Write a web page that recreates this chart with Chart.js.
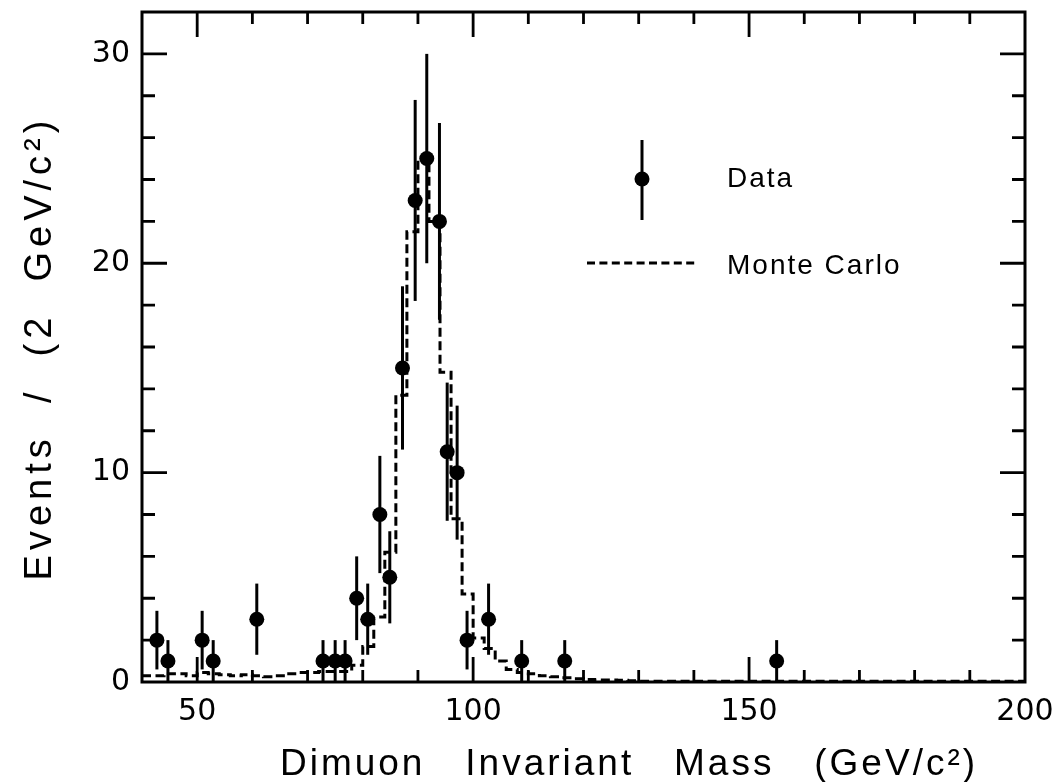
<!DOCTYPE html>
<html><head><meta charset="utf-8">
<script src="https://cdn.jsdelivr.net/npm/chart.js@4/dist/chart.umd.min.js"></script>
<style>html,body{margin:0;padding:0;background:#fff}#wrap{width:1062px;height:782px}</style>
</head><body><div id="wrap"><canvas id="c" width="1062" height="782"></canvas></div>
<script>
// ---- data ----
const dataMass   = [42.7,44.7,50.9,52.9,60.8,72.8,75.0,76.8,78.9,80.9,83.1,84.9,87.2,89.5,91.6,93.9,95.3,97.1,98.9,102.8,108.8,116.6,155.0];
const dataEvents = [2,1,2,1,3,1,1,1,4,3,8,5,15,23,25,22,11,10,2,3,1,1,1];
const dataErrors = [1.4,1,1.4,1,1.7,1,1,1,2,1.7,2.8,2.2,3.9,4.8,5,4.7,3.3,3.2,1.4,1.7,1,1,1];
const mcBinEdges = [40,42,44,46,48,50,52,54,56,58,60,62,64,66,68,70,72,74,76,78,80,82,84,86,88,90,92,94,96,98,100,102,104,106,108,110,112,114,116,118,120,122,124,126,128,130,200];
const mcValues   = [0.3,0.3,0.4,0.4,0.3,0.45,0.4,0.35,0.3,0.35,0.3,0.25,0.3,0.4,0.45,0.45,0.5,0.5,0.5,0.8,1.7,3.1,6.2,13.7,21.5,25,22,14.8,7.8,4.2,2.1,1.6,1.0,0.6,0.45,0.4,0.3,0.25,0.2,0.15,0.12,0.1,0.1,0.08,0.06,0.04];
const xTickValues = [50,100,150,200];
const yTickValues = [0,10,20,30];
const xMajorMarks = [50,100,150];
const xMinorMarks = [60,70,80,90,110,120,130,140,160,170,180,190];
const yMajorMarks = [10,20,30];
const yMinorMarks = [2,4,6,8,12,14,16,18,22,24,26,28];
const xTitle = 'Dimuon   Invariant   Mass   (GeV/c\u00B2)';
const yTitle = 'Events  /  (2  GeV/c\u00B2)';
const legendData = 'Data';
const legendMC = 'Monte Carlo';

const mcPoints = mcValues.map((v,i)=>({x:mcBinEdges[i], y:v}));
mcPoints.push({x:mcBinEdges[mcBinEdges.length-1], y:mcValues[mcValues.length-1]});
const dataPoints = dataMass.map((m,i)=>({x:m, y:dataEvents[i]}));

function setSpacing(ctx, px){ if ('letterSpacing' in ctx) ctx.letterSpacing = px + 'px'; }

const errorBars = {
  id:'errorBars',
  beforeDatasetsDraw(chart){
    const ctx = chart.ctx, xs = chart.scales.x, ys = chart.scales.y, a = chart.chartArea;
    ctx.save();
    ctx.beginPath(); ctx.rect(a.left, a.top, a.right-a.left, a.bottom-a.top); ctx.clip();
    ctx.strokeStyle = '#000'; ctx.lineWidth = 3;
    dataMass.forEach((m,i)=>{
      const px = xs.getPixelForValue(m);
      ctx.beginPath();
      ctx.moveTo(px, ys.getPixelForValue(dataEvents[i]-dataErrors[i]));
      ctx.lineTo(px, ys.getPixelForValue(dataEvents[i]+dataErrors[i]));
      ctx.stroke();
    });
    ctx.restore();
  }
};

const frameAndText = {
  id:'frameAndText',
  afterDraw(chart){
    const ctx = chart.ctx, xs = chart.scales.x, ys = chart.scales.y, a = chart.chartArea;
    ctx.save();
    ctx.strokeStyle = '#000'; ctx.lineWidth = 3; ctx.lineCap = 'butt';
    ctx.strokeRect(a.left, a.top, a.right-a.left, a.bottom-a.top);
    ctx.lineWidth = 2.8;
    const vt = (v, len) => { const p = xs.getPixelForValue(v);
      ctx.beginPath(); ctx.moveTo(p, a.bottom); ctx.lineTo(p, a.bottom-len);
      ctx.moveTo(p, a.top); ctx.lineTo(p, a.top+len); ctx.stroke(); };
    const ht = (v, len) => { const p = ys.getPixelForValue(v);
      ctx.beginPath(); ctx.moveTo(a.left, p); ctx.lineTo(a.left+len, p);
      ctx.moveTo(a.right, p); ctx.lineTo(a.right-len, p); ctx.stroke(); };
    xMajorMarks.forEach(v=>vt(v,25)); xMinorMarks.forEach(v=>vt(v,12));
    yMajorMarks.forEach(v=>ht(v,25)); yMinorMarks.forEach(v=>ht(v,13));

    // legend
    ctx.lineWidth = 3;
    ctx.beginPath(); ctx.moveTo(642,140); ctx.lineTo(642,220); ctx.stroke();
    ctx.fillStyle = '#000';
    ctx.beginPath(); ctx.arc(642,179,7.5,0,Math.PI*2); ctx.fill();
    ctx.setLineDash([8,4.4]); ctx.lineWidth = 3;
    ctx.beginPath(); ctx.moveTo(587,263); ctx.lineTo(698,263); ctx.stroke();
    ctx.setLineDash([]);
    ctx.font = '28px "Liberation Sans"'; ctx.textBaseline = 'alphabetic'; ctx.textAlign = 'left';
    setSpacing(ctx, 2);
    ctx.fillText(legendData, 727, 187);
    ctx.fillText(legendMC, 727, 274);

    // axis titles
    ctx.font = '37px "Liberation Sans"';
    setSpacing(ctx, 3);
    ctx.textAlign = 'center';
    ctx.fillText(xTitle, 629, 775);
    ctx.save();
    ctx.translate(51, 348); ctx.rotate(-Math.PI/2);
    ctx.font = '38px "Liberation Sans"';
    setSpacing(ctx, 5);
    ctx.fillText(yTitle, 0, 0);
    ctx.restore();
    setSpacing(ctx, 0);
    ctx.restore();
  }
};

new Chart(document.getElementById('c'), {
  type:'scatter',
  data:{ datasets:[
    { label:'Monte Carlo', type:'line', data:mcPoints, stepped:'before', borderColor:'#000', borderWidth:3,
      borderDash:[9,4.5], pointRadius:0, fill:false, order:2 },
    { label:'Data', data:dataPoints, pointRadius:7.5, pointHoverRadius:7.5, pointBackgroundColor:'#000', borderColor:'#000',
      pointBorderWidth:0, showLine:false, order:1 }
  ]},
  options:{
    responsive:false, animation:false, devicePixelRatio:1,
    layout:{ padding:{ top:12, right:37, left:0, bottom:0 } },
    plugins:{ legend:{display:false}, tooltip:{enabled:false} },
    scales:{
      x:{ type:'linear', min:40, max:200,
        afterBuildTicks:(s)=>{ s.ticks = xTickValues.map(v=>({value:v})); },
        afterFit:(s)=>{ s.height = 100; s.paddingLeft = 0; s.paddingRight = 0; },
        grid:{display:false, drawTicks:false}, border:{display:false},
        ticks:{ padding:12, maxRotation:0, autoSkip:false, color:'#000', font:{family:'DejaVu Sans', size:30} } },
      y:{ type:'linear', min:0, max:32,
        afterBuildTicks:(s)=>{ s.ticks = yTickValues.map(v=>({value:v})); },
        afterFit:(s)=>{ s.width = 142; s.paddingTop = 0; s.paddingBottom = 0; },
        grid:{display:false, drawTicks:false}, border:{display:false},
        ticks:{ padding:12, autoSkip:false, color:'#000', font:{family:'DejaVu Sans', size:30} } }
    }
  },
  plugins:[errorBars, frameAndText]
});
</script></body></html>
